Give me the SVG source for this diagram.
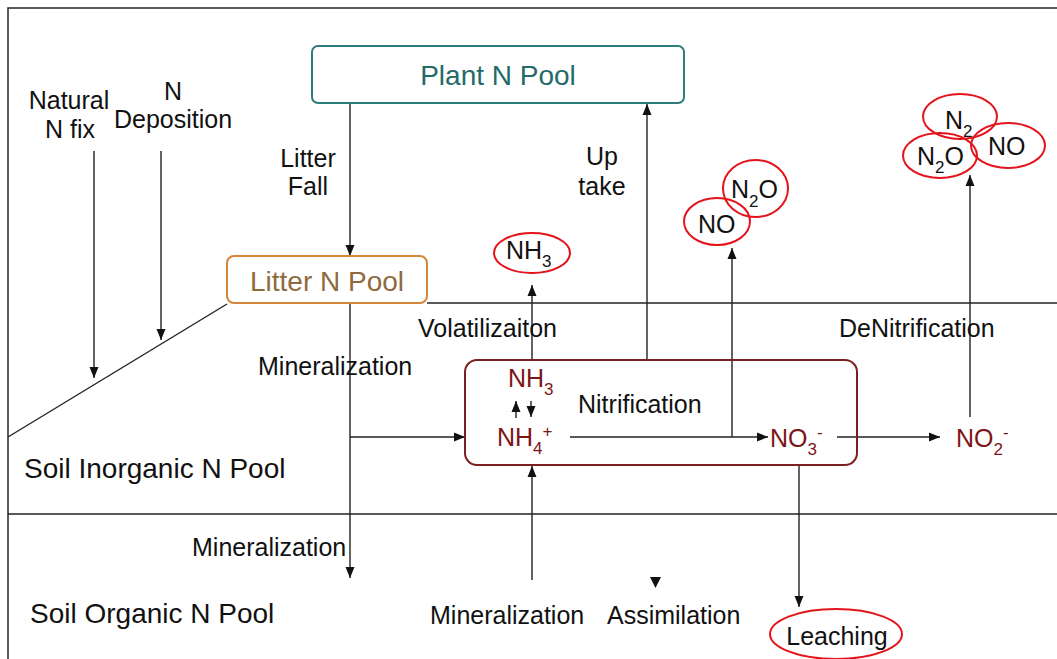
<svg xmlns="http://www.w3.org/2000/svg" width="1057" height="659" viewBox="0 0 1057 659">
<defs>
<style>
.t{font-family:"Liberation Sans",Arial,sans-serif;font-size:25px;fill:#111}
.big{font-size:28px}
.chem{font-family:"Liberation Sans",Arial,sans-serif;font-size:25px;fill:#7d1416}
.gas{font-family:"Liberation Sans",Arial,sans-serif;font-size:25px;fill:#111}
.s{font-size:17px}
.ln{stroke:#222;stroke-width:1.4;fill:none}
.ar{stroke:#222;stroke-width:1.4;fill:none;marker-end:url(#ah)}
.ell{fill:#fff;stroke:#e3141b;stroke-width:2}
</style>
<marker id="ah" markerUnits="userSpaceOnUse" markerWidth="12" markerHeight="10" refX="11" refY="5" orient="auto">
<path d="M0,0.5 L11,5 L0,9.5 z" fill="#111"/>
</marker>
</defs>
<rect width="1057" height="659" fill="#fff"/>
<g id="frame">
<rect x="8" y="8" width="1070" height="670" fill="none" stroke="#333" stroke-width="1.6"/>
<line class="ln" x1="8" y1="437" x2="227" y2="304"/>
<line class="ln" x1="427" y1="303" x2="1057" y2="303"/>
<line class="ln" x1="8" y1="514" x2="1057" y2="514"/>
</g>
<g id="connectors">
<line class="ar" x1="94" y1="151" x2="94" y2="378"/>
<line class="ar" x1="161" y1="151" x2="161" y2="340"/>
<line class="ar" x1="350" y1="103" x2="350" y2="256"/>
<line class="ar" x1="350" y1="303" x2="350" y2="578"/>
<line class="ar" x1="350" y1="437" x2="465" y2="437"/>
<line class="ar" x1="647" y1="360" x2="647" y2="104"/>
<line class="ar" x1="532" y1="360" x2="532" y2="285"/>
<line class="ar" x1="516" y1="418" x2="516" y2="401"/>
<line class="ar" x1="531" y1="401" x2="531" y2="417"/>
<line class="ar" x1="570" y1="437" x2="768" y2="437"/>
<line class="ar" x1="732" y1="437" x2="732" y2="248"/>
<line class="ar" x1="837" y1="437" x2="940" y2="437"/>
<line class="ar" x1="970" y1="417" x2="970" y2="175"/>
<line class="ar" x1="799" y1="465" x2="799" y2="607"/>
<line class="ar" x1="532" y1="580" x2="532" y2="466"/>
<path d="M650,577 L661,577 L655.5,588 z" fill="#111"/>
</g>
<g id="plant-pool">
<rect x="312" y="46" width="372" height="57" rx="6" fill="#fff" stroke="#2e7d7a" stroke-width="2"/>
<text class="t big" x="498" y="85" text-anchor="middle" style="fill:#236b68">Plant N Pool</text>
</g>
<g id="litter-pool">
<rect x="227" y="256" width="200" height="47" rx="7" fill="#fff" stroke="#d4863a" stroke-width="2"/>
<text class="t big" x="327" y="291" text-anchor="middle" style="fill:#8f6a3e">Litter N Pool</text>
</g>
<g id="process-box">
<rect x="465" y="360" width="392" height="105" rx="12" fill="none" stroke="#7b1f1f" stroke-width="2"/>
<text class="chem" x="508" y="387">NH<tspan class="s" y="395">3</tspan></text>
<text class="chem" x="497" y="446">NH<tspan class="s" y="454">4</tspan><tspan class="s" y="437">+</tspan></text>
<text class="chem" x="770" y="447">NO<tspan class="s" y="455">3</tspan><tspan class="s" y="438">-</tspan></text>
<text class="t" x="578" y="413">Nitrification</text>
</g>
<g id="no2">
<text class="chem" x="956" y="447">NO<tspan class="s" y="455">2</tspan><tspan class="s" y="438">-</tspan></text>
</g>
<g id="nh3-gas">
<ellipse class="ell" cx="532" cy="253" rx="38" ry="20"/>
<text class="gas" x="506" y="259">NH<tspan class="s" y="267">3</tspan></text>
</g>
<g id="nitrif-gases">
<ellipse class="ell" cx="755.5" cy="188.5" rx="32.5" ry="28.5"/>
<ellipse class="ell" cx="717" cy="221.5" rx="33" ry="23.5" style="fill:none"/>
<text class="gas" x="731" y="198">N<tspan class="s" y="207">2</tspan><tspan y="198">O</tspan></text>
<text class="gas" x="698" y="233">NO</text>
</g>
<g id="denitrif-gases">
<ellipse class="ell" cx="960" cy="116.5" rx="37" ry="22.5"/>
<ellipse class="ell" cx="940" cy="155.5" rx="37" ry="22.5" style="fill:none"/>
<ellipse class="ell" cx="1008" cy="145.5" rx="37" ry="22.5" style="fill:none"/>
<text class="gas" x="945" y="129">N<tspan class="s" y="137">2</tspan></text>
<text class="gas" x="917" y="165">N<tspan class="s" y="173">2</tspan><tspan y="165">O</tspan></text>
<text class="gas" x="988" y="155">NO</text>
</g>
<g id="leaching">
<ellipse class="ell" cx="836" cy="634" rx="66" ry="25"/>
<text class="t" x="837" y="645" text-anchor="middle">Leaching</text>
</g>
<g id="labels">
<text class="t" x="69" y="109" text-anchor="middle">Natural</text>
<text class="t" x="70" y="138" text-anchor="middle">N fix</text>
<text class="t" x="173" y="100" text-anchor="middle">N</text>
<text class="t" x="173" y="128" text-anchor="middle">Deposition</text>
<text class="t" x="308" y="167" text-anchor="middle">Litter</text>
<text class="t" x="308" y="195" text-anchor="middle">Fall</text>
<text class="t" x="602" y="165" text-anchor="middle">Up</text>
<text class="t" x="602" y="195" text-anchor="middle">take</text>
<text class="t" x="418" y="337">Volatilizaiton</text>
<text class="t" x="839" y="337">DeNitrification</text>
<text class="t" x="258" y="375">Mineralization</text>
<text class="t big" x="24" y="478">Soil Inorganic N Pool</text>
<text class="t" x="192" y="556">Mineralization</text>
<text class="t big" x="30" y="623">Soil Organic N Pool</text>
<text class="t" x="430" y="624">Mineralization</text>
<text class="t" x="607" y="624">Assimilation</text>
</g>
</svg>
